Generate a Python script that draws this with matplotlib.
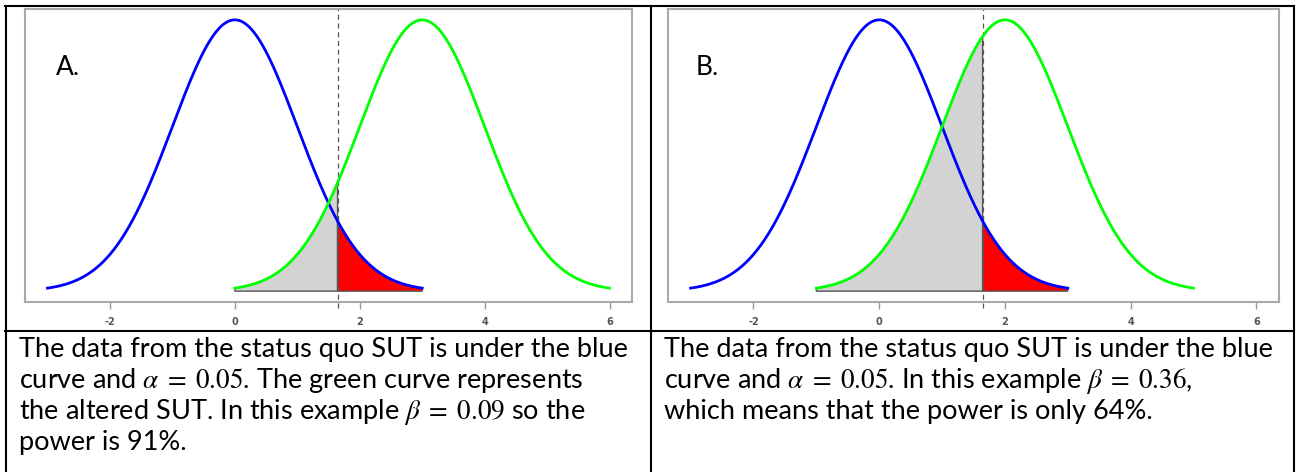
import numpy as np
import matplotlib.pyplot as plt

plt.rcParams['font.family'] = ['Lato', 'DejaVu Sans']
plt.rcParams['mathtext.fontset'] = 'stix'

# panel data
panel_labels = ['A.', 'B.']
null_mean = 0.0
alt_means = [3.0, 2.0]
sd = 1.0
crit = 1.645            # upper 5% point of the status quo curve (alpha = 0.05)
half_width = 3.0        # each curve drawn over mean +/- 3 sd
x_ticks = [-2, 0, 2, 4, 6]
x_data_range = [-3, 6]

captions = [
    ["The data from the status quo SUT is under the blue",
     r"curve and $\alpha\;=\;0.05$. The green curve represents",
     r"the altered SUT. In this example $\beta\;=\;0.09$ so the",
     "power is 91%."],
    ["The data from the status quo SUT is under the blue",
     r"curve and $\alpha\;=\;0.05$. In this example $\beta\;=\;0.36$,",
     "which means that the power is only 64%."],
]


def dnorm(x, m):
    return np.exp(-0.5 * ((x - m) / sd) ** 2) / (sd * np.sqrt(2 * np.pi))


W, H = 1296, 472
fig = plt.figure(figsize=(W / 100, H / 100), dpi=100)


def px_axes(x0, y0, x1, y1):
    return fig.add_axes([x0 / W, 1 - y1 / H, (x1 - x0) / W, (y1 - y0) / H])


# plot boxes in pixels (left, top, right, bottom)
boxes = [(25, 9, 632, 302), (668, 9, 1279, 302)]
label_px = [(56, 75), (696, 75)]

pad_x = 0.04 * (x_data_range[1] - x_data_range[0])
peak = dnorm(null_mean, null_mean)

for i, m in enumerate(alt_means):
    x0, y0, x1, y1 = boxes[i]
    ax = px_axes(x0, y0, x1, y1)

    # gray: beta region under the altered curve, left of the critical value
    xs = np.linspace(m - half_width, crit, 200)
    ax.fill(np.r_[m - half_width, xs, crit], np.r_[0, dnorm(xs, m), 0],
            facecolor='#d3d3d3', edgecolor='#555555', lw=1, zorder=1)
    # red: alpha region under the status quo curve
    xr = np.linspace(crit, null_mean + half_width, 200)
    ax.fill(np.r_[crit, xr, null_mean + half_width], np.r_[0, dnorm(xr, null_mean), 0],
            facecolor='#ff0000', edgecolor='#555555', lw=1, zorder=1)

    xb = np.linspace(null_mean - half_width, null_mean + half_width, 400)
    ax.plot(xb, dnorm(xb, null_mean), color='#0000ff', lw=2.0, zorder=3)
    xg = np.linspace(m - half_width, m + half_width, 400)
    ax.plot(xg, dnorm(xg, m), color='#00ff00', lw=2.0, zorder=3)

    ax.axvline(crit, ymin=-0.02, ymax=1, color='#555555', lw=0.9,
               ls=(0, (4, 3)), clip_on=False, zorder=2)

    ax.set_xlim(x_data_range[0] - pad_x, x_data_range[1] + pad_x)
    ax.set_ylim(-0.04 * peak, peak * 1.04)
    ax.set_yticks([])
    ax.set_xticks(x_ticks)
    ax.set_xticklabels([str(t) for t in x_ticks])
    ax.tick_params(axis='x', length=5, width=1, color='#999999', pad=6,
                   labelsize=7, labelcolor='#555555')
    for lab in ax.get_xticklabels():
        lab.set_fontweight('bold')
        lab.set_family('DejaVu Sans')
    for sp in ax.spines.values():
        sp.set_color('#aaaaaa')
        sp.set_linewidth(1.5)

    lx, ly = label_px[i]
    fig.text(lx / W, 1 - ly / H, panel_labels[i], fontsize=19,
             ha='left', va='baseline', color='black')

# table grid and captions on an overlay in pixel coordinates
ov = fig.add_axes([0, 0, 1, 1], zorder=10)
ov.set_xlim(0, W)
ov.set_ylim(H, 0)
ov.axis('off')
ov.patch.set_visible(False)

grid_lw = 1.5
ov.plot([5, 1294], [6, 6], color='black', lw=grid_lw, solid_capstyle='projecting')
ov.plot([5, 1294], [331, 331], color='black', lw=grid_lw)
for gx in [5.5, 650.5, 1294]:
    ov.plot([gx, gx], [6, H + 2], color='black', lw=grid_lw, clip_on=False)

text_x = [19, 664]
baselines = [357, 388, 419, 450]
cap_size = 17
texts = []
for i, lines in enumerate(captions):
    for j, line in enumerate(lines):
        t = ov.text(text_x[i], baselines[j], line, fontsize=cap_size,
                    ha='left', va='baseline', color='black')
        texts.append(t)

# fit caption size so the first line spans the cell like the reference
renderer = fig.canvas.get_renderer()
w = texts[0].get_window_extent(renderer).width
scale = 609.0 / w
for t in texts:
    t.set_fontsize(cap_size * scale)

fig.savefig('out.png', dpi=100)
